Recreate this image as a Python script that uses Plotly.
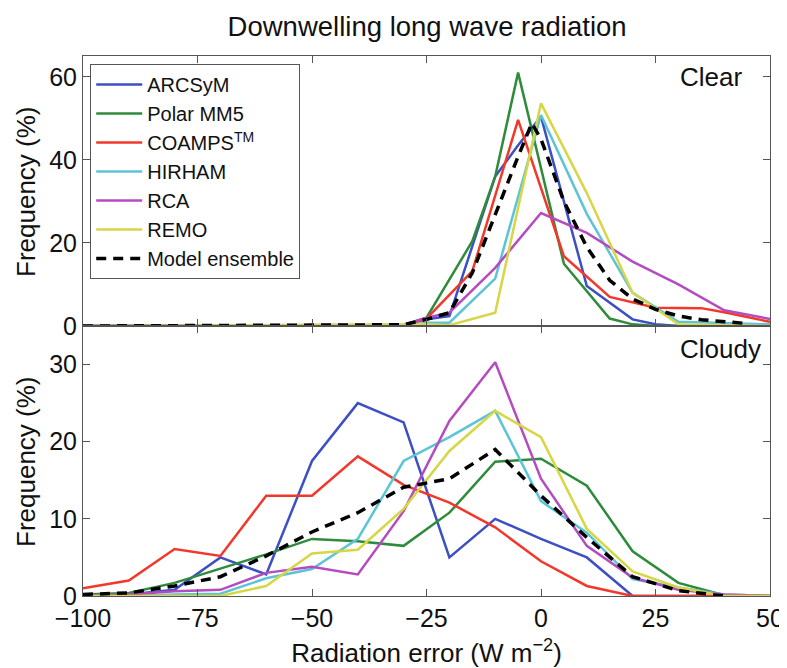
import plotly.graph_objects as go
from plotly.subplots import make_subplots

# ---------------- data ----------------
models = ["ARCSyM", "Polar MM5", "COAMPS<sup>TM</sup>", "HIRHAM", "RCA", "REMO", "Model ensemble"]

# Clear sky panel
arcsym_clear_x = [-100, -30, -25, -20, -10, -5, 0, 10, 20, 25, 30, 50]
arcsym_clear_y = [0, 0.2, 1.6, 2.4, 36, 43.5, 50.4, 9.6, 1.6, 0.4, 0, 0]
polar_clear_x = [-100, -30, -25, -15, -10, -5, 5, 15, 20, 25, 50]
polar_clear_y = [0, 0.2, 2.0, 20.4, 36, 61, 15, 1.8, 0.4, 0, 0]
coamps_clear_x = [-100, -30, -25, -15, -5, 5, 15, 25, 35, 40, 50]
coamps_clear_y = [0, 0.2, 1.8, 13.2, 49.6, 16.8, 7.0, 4.4, 4.3, 3.3, 1.0]
hirham_clear_x = [-100, -30, -25, -20, -10, 0, 10, 20, 30, 50]
hirham_clear_y = [0, 0, 0.8, 0.8, 11.4, 50.8, 27, 8, 1.0, 0.4]
rca_clear_x = [-100, -30, -25, -20, -10, 0, 10, 20, 30, 40, 50]
rca_clear_y = [0, 0.3, 2.0, 3.2, 14, 27.2, 22.4, 15.5, 10, 3.8, 1.7]
remo_clear_x = [-100, -25, -20, -10, 0, 10, 20, 30, 50]
remo_clear_y = [0, 0.4, 0.2, 3.2, 53.6, 32, 8, 0.4, 0]
ens_clear_x = [-100, -30, -25, -20, -15, -10, -5, -2, 0, 5, 10, 15, 20, 25, 30, 35, 40, 45]
ens_clear_y = [0, 0.3, 1.6, 3.2, 12.8, 27, 40.8, 48.8, 45, 30, 19, 11, 6.5, 4, 2.4, 1.5, 1.0, 0.6]

# Cloudy sky panel (10 W m-2 bins)
cloudy_x = [-100, -90, -80, -70, -60, -50, -40, -30, -20, -10, 0, 10, 20, 30, 40, 50]
arcsym_cloudy = [0.2, 0.2, 0.8, 5.0, 2.8, 17.5, 25.0, 22.5, 5.0, 10.0, 7.4, 5.0, 0, 0, 0, 0]
polar_cloudy = [0.2, 0.4, 1.7, 3.5, 5.4, 7.4, 7.1, 6.5, 10.8, 17.4, 17.8, 14.3, 5.8, 1.7, 0.1, 0]
coamps_cloudy = [1.0, 2.0, 6.1, 5.2, 13.0, 13.0, 18.1, 14.4, 12.1, 8.9, 4.5, 1.3, 0, 0, 0, 0]
hirham_cloudy = [0, 0, 0.2, 0.3, 2.3, 3.5, 7.4, 17.5, 20.6, 24.0, 12.3, 8.2, 2.2, 1.1, 0.2, 0]
rca_cloudy = [0, 0.2, 0.6, 0.8, 3.0, 3.8, 2.8, 11.0, 22.7, 30.3, 15.2, 6.5, 2.4, 0.8, 0.2, 0]
remo_cloudy = [0, 0, 0, 0, 1.3, 5.5, 6.0, 11.3, 18.8, 24.0, 20.6, 8.7, 3.2, 1.1, 0, 0]
ens_cloudy = [0.2, 0.4, 1.3, 2.5, 5.2, 8.3, 10.8, 14.1, 15.2, 19.0, 13.0, 7.6, 2.5, 0.7, 0, None]

x_ticks = [-100, -75, -50, -25, 0, 25, 50]
clear_ticks = [0, 20, 40, 60]
cloudy_ticks = [0, 10, 20, 30]

colors = ["#3d4fc4", "#2e8b3c", "#f2382a", "#5cc4d6", "#b44cc0", "#d6d646", "#000000"]

clear_series = [
    (arcsym_clear_x, arcsym_clear_y), (polar_clear_x, polar_clear_y),
    (coamps_clear_x, coamps_clear_y), (hirham_clear_x, hirham_clear_y),
    (rca_clear_x, rca_clear_y), (remo_clear_x, remo_clear_y),
    (ens_clear_x, ens_clear_y),
]
cloudy_series = [arcsym_cloudy, polar_cloudy, coamps_cloudy, hirham_cloudy,
                 rca_cloudy, remo_cloudy, ens_cloudy]

FONT = "Liberation Sans, Arial, Helvetica, sans-serif"
TXT = "#111111"

fig = make_subplots(rows=2, cols=1, shared_xaxes=True, vertical_spacing=0)

for i, name in enumerate(models):
    is_ens = i == len(models) - 1
    line = dict(color=colors[i], width=3.5 if is_ens else 2.5)
    if is_ens:
        line["dash"] = "10px,7px"
    cx, cy = clear_series[i]
    fig.add_trace(go.Scatter(x=cx, y=cy, mode="lines", name=name, line=line,
                             legendgroup=name, showlegend=True), row=1, col=1)
    fig.add_trace(go.Scatter(x=cloudy_x, y=cloudy_series[i], mode="lines", name=name,
                             line=line, legendgroup=name, showlegend=False,
                             connectgaps=False), row=2, col=1)

axis_common = dict(showline=True, linecolor="#555555", linewidth=1, mirror="ticks",
                   ticks="inside", ticklen=7, tickcolor="#555555", showgrid=False,
                   zeroline=False, automargin=False,
                   tickfont=dict(size=25, color=TXT, family=FONT))

fig.update_xaxes(range=[-100, 50], tickvals=x_ticks, **axis_common)
fig.update_xaxes(title=dict(text="Radiation error (W m<sup>−2</sup>)",
                            font=dict(size=26, color=TXT, family=FONT)),
                 row=2, col=1)
fig.update_yaxes(range=[0, 65], tickvals=clear_ticks, row=1, col=1, **axis_common)
fig.update_yaxes(range=[0, 35], tickvals=cloudy_ticks, row=2, col=1, **axis_common)

# y-axis titles (one per panel)
for ypos in (0.75, 0.25):
    fig.add_annotation(text="Frequency (%)", xref="paper", yref="paper", x=-0.083, y=ypos,
                       xanchor="center", yanchor="middle", textangle=-90, showarrow=False,
                       font=dict(size=26, color=TXT, family=FONT))

fig.add_annotation(text="Clear", xref="paper", yref="paper", x=0.962, y=0.962,
                   xanchor="right", yanchor="middle", showarrow=False,
                   font=dict(size=26, color=TXT, family=FONT))
fig.add_annotation(text="Cloudy", xref="paper", yref="paper", x=0.99, y=0.458,
                   xanchor="right", yanchor="middle", showarrow=False,
                   font=dict(size=26, color=TXT, family=FONT))

# the page body has an 8px margin: size the figure so it ends at the window edge
fig.update_layout(
    width=779, height=660,
    margin=dict(l=75, r=17, t=48, b=72),
    paper_bgcolor="white", plot_bgcolor="white",
    title=dict(text="Downwelling long wave radiation", x=0.538, xanchor="center",
               y=0.9715, yanchor="middle",
               font=dict(size=27.5, color=TXT, family=FONT)),
    legend=dict(x=0.0105, y=0.985, xanchor="left", yanchor="top",
                bordercolor="#555555", borderwidth=1, bgcolor="white",
                font=dict(size=20, color=TXT, family=FONT),
                tracegroupgap=0, itemwidth=46),
    showlegend=True,
)

fig.write_html("out.html")
